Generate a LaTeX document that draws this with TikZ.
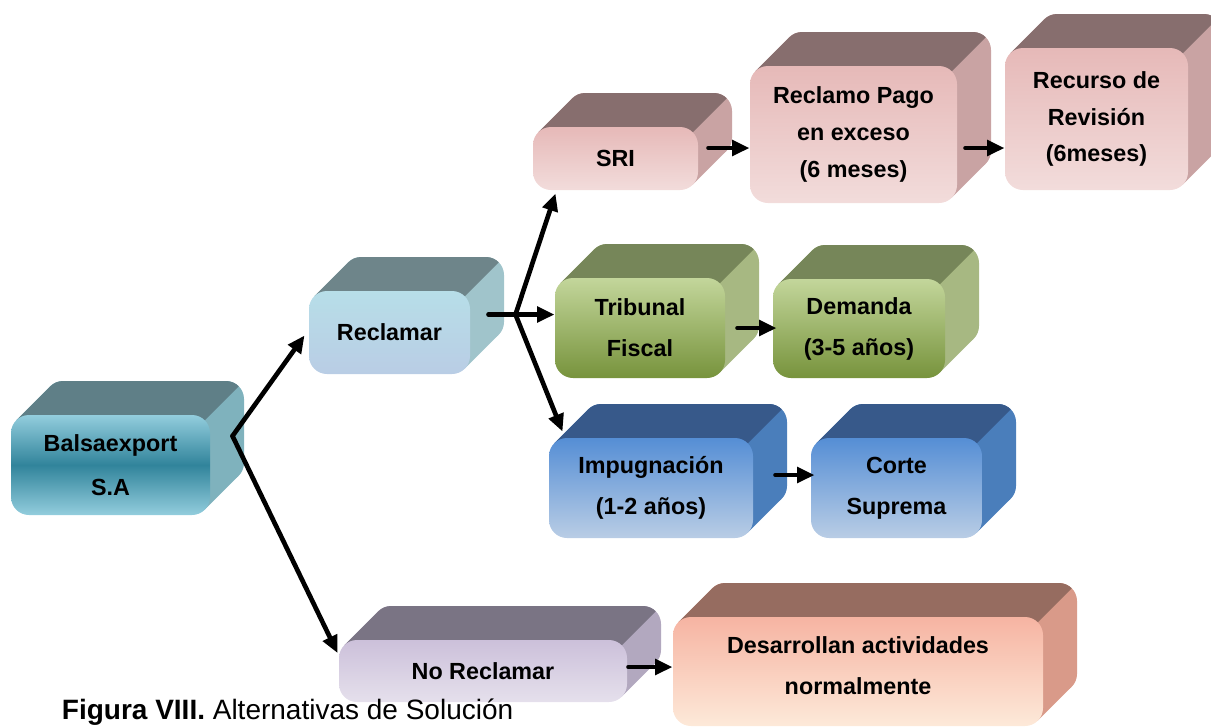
\documentclass[tikz,border=0pt]{standalone}
\usepackage{fontspec}
\setmainfont{Liberation Sans}
\usetikzlibrary{arrows.meta,calc}

\definecolor{balTop}{HTML}{5F7F87}
\definecolor{balSide}{HTML}{7FB2BD}
\definecolor{balLight}{HTML}{93CDDD}
\definecolor{balDark}{HTML}{31849B}
\definecolor{recTop}{HTML}{6E858A}
\definecolor{recSide}{HTML}{A0C4CB}
\definecolor{recUp}{HTML}{B7DEE8}
\definecolor{recLow}{HTML}{B9CDE5}
\definecolor{sriTop}{HTML}{876E6E}
\definecolor{sriSide}{HTML}{C9A3A3}
\definecolor{sriUp}{HTML}{E6B9B8}
\definecolor{sriLow}{HTML}{F2DCDB}
\definecolor{tfTop}{HTML}{768659}
\definecolor{tfSide}{HTML}{A7B882}
\definecolor{tfUp}{HTML}{C3D69B}
\definecolor{tfLow}{HTML}{77933C}
\definecolor{impTop}{HTML}{37598A}
\definecolor{impSide}{HTML}{4A7EBB}
\definecolor{impUp}{HTML}{558ED5}
\definecolor{impLow}{HTML}{B9CDE5}
\definecolor{noTop}{HTML}{7A7484}
\definecolor{noSide}{HTML}{B2A8BF}
\definecolor{noUp}{HTML}{CCC0DA}
\definecolor{noLow}{HTML}{E5E0EC}
\definecolor{desTop}{HTML}{966C60}
\definecolor{desSide}{HTML}{D99A89}
\definecolor{desUp}{HTML}{F6B4A2}
\definecolor{desLow}{HTML}{FDE9D9}

\tikzset{every picture/.style={line width=0.75pt}}
\tikzset{
  cara/.style={rounded corners=13.5pt, inner sep=0pt, align=center, text=black, font=\bfseries\fontsize{17.5}{30.75}\selectfont},
  flecha/.style={line width=3.5pt, line cap=round, -{Triangle[length=13pt,width=11.5pt]}},
  linea/.style={line width=3.5pt, line cap=round}
}

% 3D block: name, x1, y1, x2, y2 (front face), top colour, side colour, front options, text
\newcommand{\caja}[9]{%
  \fill[#7, rounded corners=13.5pt] (#2+34,#3-34) rectangle (#4+34,#5-34);
  \fill[#7] (#2+5.3,#3+5.3) -- (#2+39.3,#3-28.7) -- (#4+28.7,#5-39.3) -- (#4-5.3,#5-5.3) -- cycle;
  \fill[#6] (#2+5.3,#3+5.3) -- (#2+39.3,#3-28.7) arc[start angle=225,end angle=270,radius=13.5pt]
    -- (#4+16,#3-34) arc[start angle=270,end angle=315,radius=13.5pt] -- (#4-5.3,#3+5.3) -- cycle;
  \node[cara, #8, minimum width={(#4-#2)*0.75pt}, minimum height={(#5-#3)*0.75pt}] (#1) at ({(#2+#4)/2},{(#3+#5)/2}) {#9};
}

\begin{document}
\begin{tikzpicture}[x=0.75pt,y=0.75pt,yscale=-1,xscale=1]
	\useasboundingbox (0,0) rectangle (1211,726);
	\clip (0,0) rectangle (1211,726);

	%Blocks
	\caja{bal}{11}{415}{210}{515}{balTop}{balSide}{top color=balLight, bottom color=balLight, middle color=balDark, font=\bfseries\fontsize{17.5}{33}\selectfont}{Balsaexport\\S.A}
	\caja{recl}{309}{291}{470}{374}{recTop}{recSide}{top color=recUp, bottom color=recLow}{Reclamar}
	\caja{sri}{533}{127}{698}{190}{sriTop}{sriSide}{top color=sriUp, bottom color=sriLow}{SRI}
	\caja{pago}{750}{66}{957}{203}{sriTop}{sriSide}{top color=sriUp, bottom color=sriLow, font=\bfseries\fontsize{17.5}{27.5}\selectfont}{Reclamo Pago\\en exceso\\(6 meses)}
	\caja{recur}{1005}{48}{1188}{190}{sriTop}{sriSide}{top color=sriUp, bottom color=sriLow, font=\bfseries\fontsize{17.5}{27.5}\selectfont}{Recurso de\\Revisión\\(6meses)}
	\caja{trib}{555}{278}{725}{378}{tfTop}{tfSide}{top color=tfUp, bottom color=tfLow}{Tribunal\\Fiscal}
	\caja{dem}{773}{279}{945}{378}{tfTop}{tfSide}{top color=tfUp, bottom color=tfLow}{Demanda\\(3-5 años)}
	\caja{impug}{549}{438}{753}{538}{impTop}{impSide}{top color=impUp, bottom color=impLow}{Impugnación\\(1-2 años)}
	\caja{corte}{811}{438}{982}{538}{impTop}{impSide}{top color=impUp, bottom color=impLow}{Corte\\Suprema}
	\caja{norecl}{339}{640}{627}{702}{noTop}{noSide}{top color=noUp, bottom color=noLow}{No Reclamar}
	\caja{desarr}{673}{617}{1043}{726}{desTop}{desSide}{top color=desUp, bottom color=desLow, text depth=9pt}{Desarrollan actividades\\normalmente}

	%Arrows
	\coordinate (fork1) at ($(bal.east)+(22,-29)$);
	\draw[flecha] (fork1) -- ($(recl.west)+(-4,3)$);
	\draw[flecha] (fork1) -- ($(norecl.west)+(-1,-18)$);
	\coordinate (fork2) at ($(recl.east)+(45,-18)$);
	\draw[linea] ($(recl.east)+(18,-18)$) -- (fork2);
	\draw[flecha] (fork2) -- ($(sri.south west)+(23,3)$);
	\draw[flecha] (fork2) -- (fork2 -| trib.west);
	\draw[flecha] (fork2) -- ($(impug.north west)+(14,-6)$);

	\coordinate (a1) at ($(sri.east)+(10,-10.5)$);
	\draw[flecha] (a1) -- (a1 -| pago.west);
	\coordinate (a2) at ($(pago.east)+(8,13.5)$);
	\draw[flecha] (a2) -- (a2 -| recur.west);
	\coordinate (a3) at ($(trib.east)+(12,0)$);
	\draw[flecha] (a3) -- ($(a3 -| dem.west)+(4,0)$);
	\coordinate (a4) at ($(impug.east)+(22,-13)$);
	\draw[flecha] (a4) -- ($(a4 -| corte.west)+(4,0)$);
	\coordinate (a5) at ($(norecl.east)+(1,-4)$);
	\draw[flecha] (a5) -- (a5 -| desarr.west);

	% Text Node
	\node[anchor=base west, font=\fontsize{21}{25}\selectfont] (cap) at (57,719) {\textbf{Figura VIII.} Alternativas de Solución};

\end{tikzpicture}
\end{document}
